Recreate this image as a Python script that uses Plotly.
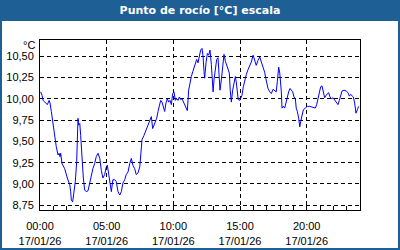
import plotly.graph_objects as go

DATE = "2026-01-17"
times = ["00:03","00:09","00:14","00:24","00:33","00:41","00:45","00:51","00:59","01:06","01:13","01:21","01:26","01:30","01:33","01:39","01:51","02:03","02:14","02:18","02:21","02:27","02:33","02:39","02:45","02:48","02:51","02:54","02:59","03:03","03:09","03:15","03:21","03:28","03:36","03:44","03:51","03:58","04:06","04:13","04:21","04:29","04:36","04:43","04:51","04:58","05:03","05:09","05:14","05:18","05:21","05:28","05:36","05:43","05:51","05:59","06:06","06:13","06:21","06:28","06:36","06:44","06:51","06:58","07:06","07:13","07:21","07:29","07:33","07:39","07:48","07:54","08:03","08:09","08:15","08:21","08:27","08:33","08:39","08:45","08:51","08:59","09:03","09:09","09:15","09:21","09:27","09:33","09:39","09:45","09:51","09:57","10:03","10:09","10:15","10:21","10:27","10:33","10:39","10:45","10:51","10:58","11:03","11:09","11:15","11:21","11:28","11:33","11:39","11:45","11:51","11:57","12:03","12:09","12:14","12:18","12:21","12:27","12:33","12:39","12:45","12:51","12:54","12:59","13:03","13:09","13:15","13:21","13:26","13:30","13:36","13:42","13:48","13:54","14:00","14:06","14:12","14:16","14:21","14:27","14:33","14:39","14:43","14:48","14:52","14:59","15:03","15:09","15:15","15:21","15:28","15:36","15:44","15:51","15:59","16:06","16:13","16:21","16:29","16:36","16:44","16:51","16:56","17:02","17:06","17:14","17:21","17:29","17:36","17:43","17:48","17:54","17:59","18:03","18:06","18:09","18:15","18:21","18:27","18:33","18:39","18:45","18:51","18:57","19:03","19:09","19:13","19:18","19:24","19:29","19:33","19:39","19:45","19:54","20:03","20:14","20:28","20:39","20:45","20:51","20:57","21:03","21:09","21:15","21:21","21:27","21:33","21:39","21:45","21:51","21:59","22:06","22:13","22:21","22:27","22:33","22:39","22:48","22:58","23:06","23:12","23:18","23:24","23:30","23:36","23:42","23:48","23:54"]
values = [10.08,10.04,9.98,9.95,9.93,9.98,9.95,9.85,9.69,9.54,9.44,9.34,9.36,9.32,9.36,9.24,9.18,9.07,8.99,8.91,8.81,8.79,8.91,9.03,9.26,9.54,9.77,9.69,9.71,9.57,9.30,9.07,8.93,8.91,8.92,9.03,9.13,9.18,9.24,9.32,9.36,9.30,9.16,9.07,9.11,9.20,9.22,9.11,9.05,8.99,8.91,9.05,9.05,9.03,8.91,8.87,8.91,9.01,9.05,9.11,9.14,9.24,9.30,9.22,9.18,9.11,9.13,9.20,9.36,9.52,9.57,9.61,9.69,9.73,9.75,9.79,9.65,9.69,9.73,9.77,9.85,9.93,9.98,9.96,9.91,9.85,9.95,10.00,9.96,9.98,9.93,10.06,10.08,9.98,10.00,9.98,10.02,9.99,10.00,9.96,9.93,9.89,9.86,10.10,10.20,10.26,10.32,10.36,10.42,10.46,10.42,10.50,10.57,10.59,10.49,10.32,10.24,10.42,10.53,10.51,10.57,10.40,10.22,10.08,10.22,10.38,10.46,10.48,10.30,10.10,10.22,10.38,10.52,10.44,10.40,10.36,10.30,10.10,9.96,10.10,10.20,10.26,10.20,10.10,9.99,9.98,10.00,10.04,10.14,10.22,10.28,10.34,10.38,10.43,10.51,10.46,10.39,10.45,10.49,10.43,10.37,10.31,10.24,10.18,10.12,10.08,10.06,10.11,10.10,10.08,10.20,10.37,10.30,10.20,10.08,9.89,9.91,9.89,9.96,10.04,10.08,10.12,10.10,10.08,10.02,10.00,9.89,9.85,9.77,9.67,9.73,9.81,9.87,9.89,9.91,9.91,9.90,9.89,9.93,10.00,10.08,10.14,10.15,10.06,10.01,10.04,10.06,10.07,10.02,10.00,10.01,9.98,9.96,9.93,9.98,10.04,10.09,10.10,10.09,10.07,10.03,10.05,10.04,10.02,9.95,9.83,9.87,9.91]

tick_hours = ["00:00", "05:00", "10:00", "15:00", "20:00"]
tick_date_label = "17/01/26"
y_ticks = [8.75, 9.00, 9.25, 9.50, 9.75, 10.00, 10.25, 10.50]
title_text = "Punto de rocío [°C] escala"
unit_text = "°C"

BLUE = "#1e5f96"
W, H = 400, 250
L, R, T, B = 40, 40, 40, 40
pw, ph = W - L - R, H - T - B

def px_to_paper_x(px):
    return (px - L) / pw

def px_to_paper_y(py):
    return (H - B - py) / ph

x = [f"{DATE} {t}" for t in times]

fig = go.Figure()
fig.add_trace(go.Scatter(x=x, y=values, mode="lines",
                         line=dict(color="#0000ff", width=1), hoverinfo="skip"))

font = dict(family="Liberation Sans, Arial, sans-serif", size=11, color="#000000")

fig.update_layout(
    width=W, height=H,
    margin=dict(l=L, r=R, t=T, b=B, autoexpand=False),
    paper_bgcolor=BLUE,
    plot_bgcolor="#ffffff",
    separators=",.",
    showlegend=False,
    title=dict(text=title_text, x=0.5, xref="paper", xanchor="center",
               y=1 - 10.5 / H, yref="container", yanchor="middle",
               font=dict(family="DejaVu Sans, sans-serif", size=11, color="#ffffff", weight="bold")),
    font=font,
    shapes=[dict(type="rect", xref="paper", yref="paper", layer="below",
                 x0=px_to_paper_x(2), x1=px_to_paper_x(398),
                 y0=px_to_paper_y(248), y1=px_to_paper_y(21),
                 fillcolor="#ffffff", line=dict(width=0))],
    annotations=[dict(text=unit_text, xref="paper", yref="paper",
                      x=px_to_paper_x(37), y=px_to_paper_y(45),
                      xanchor="right", yanchor="middle", showarrow=False, font=font)],
)

fig.update_xaxes(
    type="date", automargin=False,
    range=[f"{DATE} 00:00", "2026-01-18 00:00"],
    tickvals=[f"{DATE} {h}" for h in tick_hours],
    ticktext=[f"{h}<br>{tick_date_label}" for h in tick_hours],
    showgrid=True, gridcolor="#000000", gridwidth=1, griddash="4px,3px",
    showline=True, linecolor="#000000", linewidth=1, mirror=True,
    ticks="inside", ticklen=4, tickcolor="#000000",
    minor=dict(dtick=3600000, ticks="inside", ticklen=4, tickcolor="#000000", showgrid=False),
    zeroline=False, tickfont=font, ticklabelstandoff=6,
)
fig.update_yaxes(
    automargin=False,
    range=[8.695, 10.688],
    tickvals=y_ticks, tickformat=".2f",
    showgrid=True, gridcolor="#000000", gridwidth=1, griddash="4px,3px",
    showline=True, linecolor="#000000", linewidth=1, mirror=True,
    ticks="", zeroline=False, tickfont=font, ticklabelstandoff=3,
)

fig.write_html("out.html")
